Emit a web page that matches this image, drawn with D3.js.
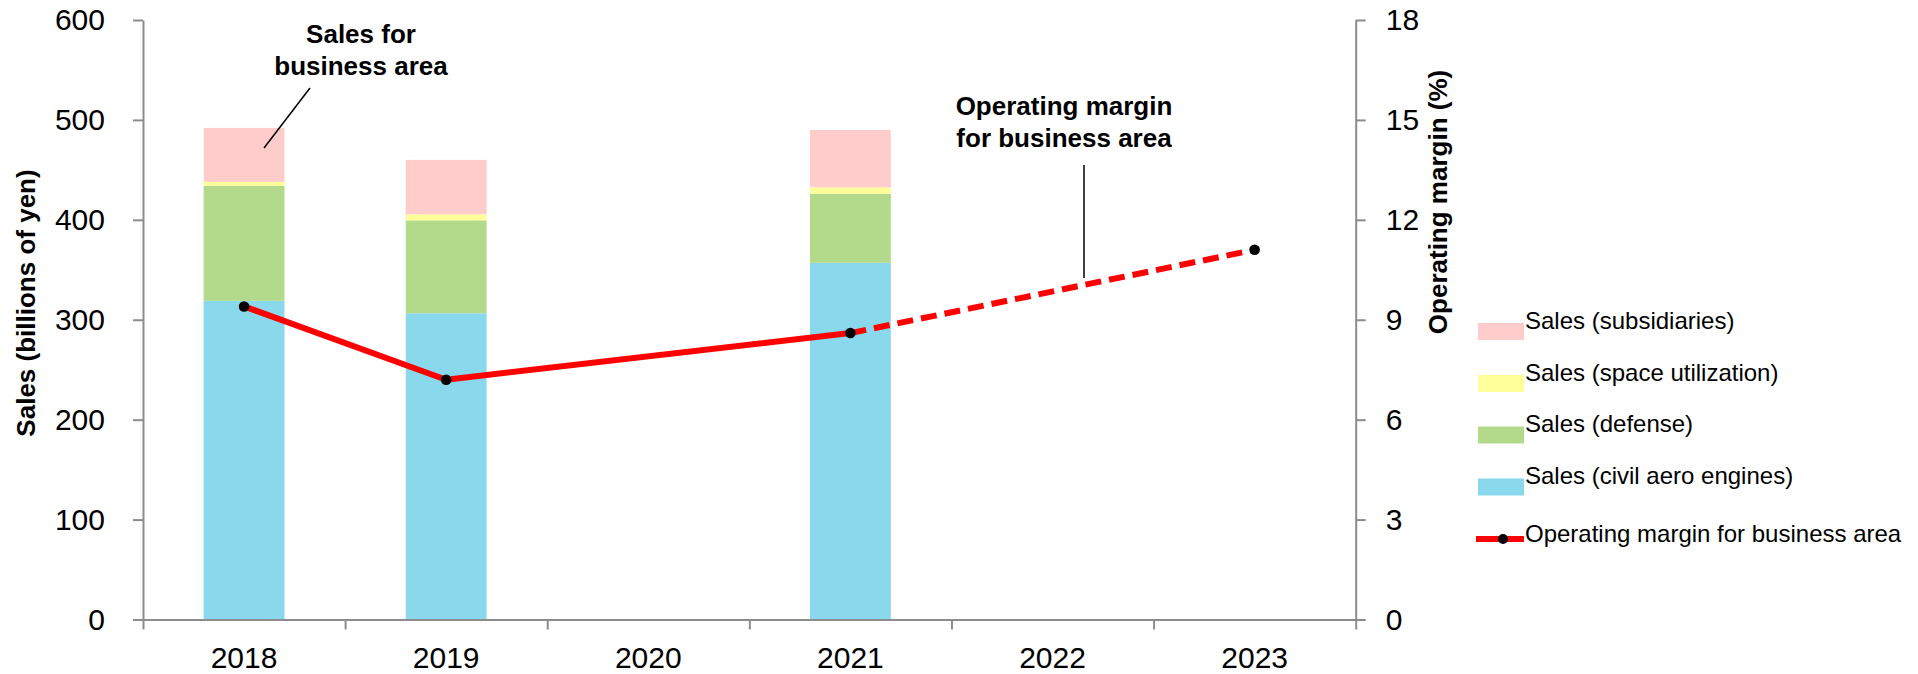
<!DOCTYPE html>
<html>
<head>
<meta charset="utf-8">
<script src="https://cdn.jsdelivr.net/npm/d3@7/dist/d3.min.js"></script>
<style>
  html, body { margin: 0; padding: 0; background: #fff; }
  svg { display: block; font-family: "Liberation Sans", Arial, sans-serif; }
</style>
</head>
<body>
<svg id="chart" width="1918" height="674"></svg>
<script>
// Fiscal years on the category axis
const years = ["2018", "2019", "2020", "2021", "2022", "2023"];

// Sales by segment (billions of yen); null where no bar is drawn
const salesCivil     = [319, 306.5, null, 357, null, null];
const salesDefense   = [115, 93, null, 69, null, null];
const salesSpace     = [4, 6, null, 6.5, null, null];
const salesSubsid    = [54, 54.5, null, 57.5, null, null];

// Operating margin (%): results (solid) and plan (dashed)
const marginActual = [9.4, 7.2, null, 8.6, null, null];
const marginPlan   = [null, null, null, 8.6, null, 11.1];

const salesTicks  = [0, 100, 200, 300, 400, 500, 600];
const marginTicks = [0, 3, 6, 9, 12, 15, 18];

const seriesNames = [
  "Sales (subsidiaries)",
  "Sales (space utilization)",
  "Sales (defense)",
  "Sales (civil aero engines)"
];
const lineName = "Operating margin for business area";

const colors = {
  civil: "#89d8ec",
  defense: "#b3d98a",
  space: "#ffff99",
  subsid: "#ffcccc",
  line: "#ff0000",
  axis: "#8c8c8c"
};

const svg = d3.select("#chart");
const plotLeft = 143, plotRight = 1355.7, plotTop = 20, plotBottom = 619.5;

// Scales
const x = d3.scaleBand().domain(years).range([plotLeft, plotRight]).paddingInner(0.6).paddingOuter(0.3);
const xEdges = d3.scaleLinear().domain([0, years.length]).range([plotLeft, plotRight]);
const ySales = d3.scaleLinear().domain([0, 600]).range([plotBottom, plotTop]);
const yMargin = d3.scaleLinear().domain([0, 18]).range([plotBottom, plotTop]);
const xc = d => x(d) + x.bandwidth() / 2;

// Stacked bars
const stackKeys = ["civil", "defense", "space", "subsid"];
const rows = years.map((y, i) => ({
  year: y, civil: salesCivil[i], defense: salesDefense[i], space: salesSpace[i], subsid: salesSubsid[i]
})).filter(r => r.civil != null);
const stacked = d3.stack().keys(stackKeys)(rows);

svg.append("g").selectAll("g").data(stacked).join("g")
  .attr("fill", d => colors[d.key])
  .selectAll("rect").data(d => d).join("rect")
  .attr("x", d => x(d.data.year))
  .attr("width", x.bandwidth())
  .attr("y", d => ySales(d[1]))
  .attr("height", d => ySales(d[0]) - ySales(d[1]));

// Axes
function styleAxis(g) {
  g.selectAll(".domain").attr("stroke", colors.axis).attr("stroke-width", 2);
  g.selectAll(".tick line").attr("stroke", colors.axis).attr("stroke-width", 2);
  g.selectAll("text").attr("fill", "#000").attr("font-size", 30)
    .attr("font-family", "\"Liberation Sans\", Arial, sans-serif");
}

svg.append("g").attr("transform", `translate(0,${plotBottom})`)
  .call(d3.axisBottom(xEdges).tickValues(d3.range(years.length + 1)).tickFormat("").tickSize(10).tickSizeOuter(0))
  .call(styleAxis);

svg.append("g").attr("transform", `translate(0,${plotBottom})`)
  .call(d3.axisBottom(x).tickSize(0).tickPadding(27))
  .call(g => g.select(".domain").remove())
  .call(styleAxis);

svg.append("g").attr("transform", `translate(${plotLeft},0)`)
  .call(d3.axisLeft(ySales).tickValues(salesTicks).tickSize(10).tickSizeOuter(0).tickPadding(28))
  .call(styleAxis);

svg.append("g").attr("transform", `translate(${plotRight},0)`)
  .call(d3.axisRight(yMargin).tickValues(marginTicks).tickSize(10).tickSizeOuter(0).tickPadding(20))
  .call(styleAxis);

// Axis titles
svg.append("text")
  .attr("transform", `translate(35,303) rotate(-90)`)
  .attr("text-anchor", "middle").attr("font-size", 26).attr("font-weight", "bold")
  .text("Sales (billions of yen)");

svg.append("text")
  .attr("transform", `translate(1447,202) rotate(-90)`)
  .attr("text-anchor", "middle").attr("font-size", 26).attr("font-weight", "bold")
  .text("Operating margin (%)");

// Operating margin lines
const pts = arr => years.map((y, i) => ({ year: y, v: arr[i] })).filter(d => d.v != null);
const line = d3.line().x(d => xc(d.year)).y(d => yMargin(d.v));

svg.append("path").datum(pts(marginActual))
  .attr("fill", "none").attr("stroke", colors.line).attr("stroke-width", 6)
  .attr("stroke-linejoin", "round").attr("d", line);

svg.append("path").datum(pts(marginPlan))
  .attr("fill", "none").attr("stroke", colors.line).attr("stroke-width", 6)
  .attr("stroke-dasharray", "16,8").attr("d", line);

const markerPts = years.map((y, i) => ({ year: y, v: marginActual[i] != null ? marginActual[i] : marginPlan[i] }))
  .filter(d => d.v != null);
svg.append("g").selectAll("circle").data(markerPts).join("circle")
  .attr("cx", d => xc(d.year)).attr("cy", d => yMargin(d.v)).attr("r", 5.3).attr("fill", "#000");

// Callouts
const callout1 = svg.append("text").attr("text-anchor", "middle").attr("font-size", 26).attr("font-weight", "bold");
callout1.append("tspan").attr("x", 361).attr("y", 43).text("Sales for");
callout1.append("tspan").attr("x", 361).attr("y", 75).text("business area");
svg.append("line").attr("x1", 310).attr("y1", 88).attr("x2", 264).attr("y2", 148)
  .attr("stroke", "#000").attr("stroke-width", 1.5);

const callout2 = svg.append("text").attr("text-anchor", "middle").attr("font-size", 26).attr("font-weight", "bold");
callout2.append("tspan").attr("x", 1064).attr("y", 115).text("Operating margin");
callout2.append("tspan").attr("x", 1064).attr("y", 147).text("for business area");
svg.append("line").attr("x1", 1084).attr("y1", 165).attr("x2", 1084).attr("y2", 278)
  .attr("stroke", "#000").attr("stroke-width", 1.5);

// Legend
const legend = svg.append("g");
const legendKeys = ["subsid", "space", "defense", "civil"];
const rowY = [323, 375, 426.5, 478.5];
legendKeys.forEach((k, i) => {
  legend.append("rect").attr("x", 1478).attr("y", rowY[i]).attr("width", 46).attr("height", 17).attr("fill", colors[k]);
  legend.append("text").attr("x", 1525).attr("y", rowY[i] + 5.5).attr("font-size", 24).text(seriesNames[i]);
});
legend.append("line").attr("x1", 1476).attr("x2", 1524).attr("y1", 539).attr("y2", 539)
  .attr("stroke", colors.line).attr("stroke-width", 6);
legend.append("circle").attr("cx", 1503).attr("cy", 539).attr("r", 5).attr("fill", "#000");
legend.append("text").attr("x", 1525).attr("y", 542).attr("font-size", 24).text(lineName);
</script>
</body>
</html>
